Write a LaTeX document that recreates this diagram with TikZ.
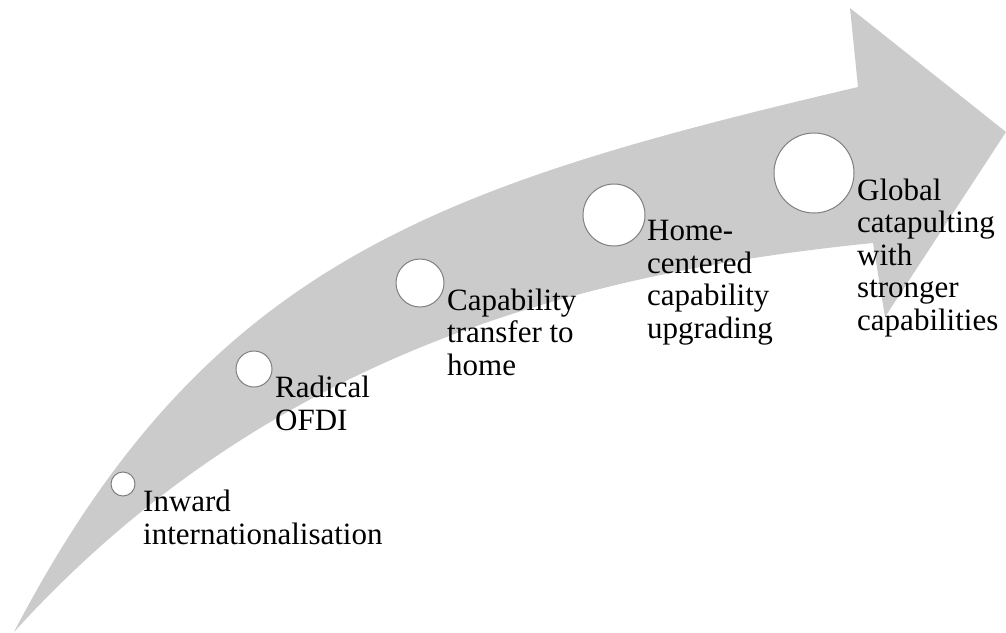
\documentclass[tikz,border=0pt]{standalone}
\usepackage{fontspec}
\setmainfont{Liberation Serif}
\definecolor{arrowgray}{RGB}{203,203,203}
\definecolor{ringgray}{RGB}{128,128,128}
\tikzset{
  stagecircle/.style={circle, draw=ringgray, line width=1pt, fill=white, inner sep=0pt},
  stagelabel/.style={anchor=base west, align=left, inner sep=0pt, font=\fontsize{31}{32.5}\selectfont, text=black}
}
\begin{document}
\begin{tikzpicture}[x=1pt,y=-1pt]
\useasboundingbox (0,0) rectangle (1006,632);
% big curved arrow
\fill[arrowgray] (14,632) .. controls (207,262) and (437,186) .. (858,87)
  -- (850,8) -- (1006,132) -- (885,317) -- (873,243)
  .. controls (573,273) and (264,357) .. (14,632) -- cycle;
% stage circles
\node[stagecircle, minimum size=24pt] (c1) at (123,484) {};
\node[stagecircle, minimum size=36pt] (c2) at (254,369) {};
\node[stagecircle, minimum size=48pt] (c3) at (420,283) {};
\node[stagecircle, minimum size=62pt] (c4) at (614,215) {};
\node[stagecircle, minimum size=80pt] (c5) at (814,173) {};
% labels (anchor = baseline of last line)
\node[stagelabel] (t1) at (143,544) {Inward\\internationalisation};
\node[stagelabel] (t2) at (275,430) {Radical\\OFDI};
\node[stagelabel] (t3) at (447,375) {Capability\\transfer to\\home};
\node[stagelabel] (t4) at (647,338) {Home-\\centered\\capability\\upgrading};
\node[stagelabel] (t5) at (857,330) {Global\\catapulting\\with\\stronger\\capabilities};
\end{tikzpicture}
\end{document}
